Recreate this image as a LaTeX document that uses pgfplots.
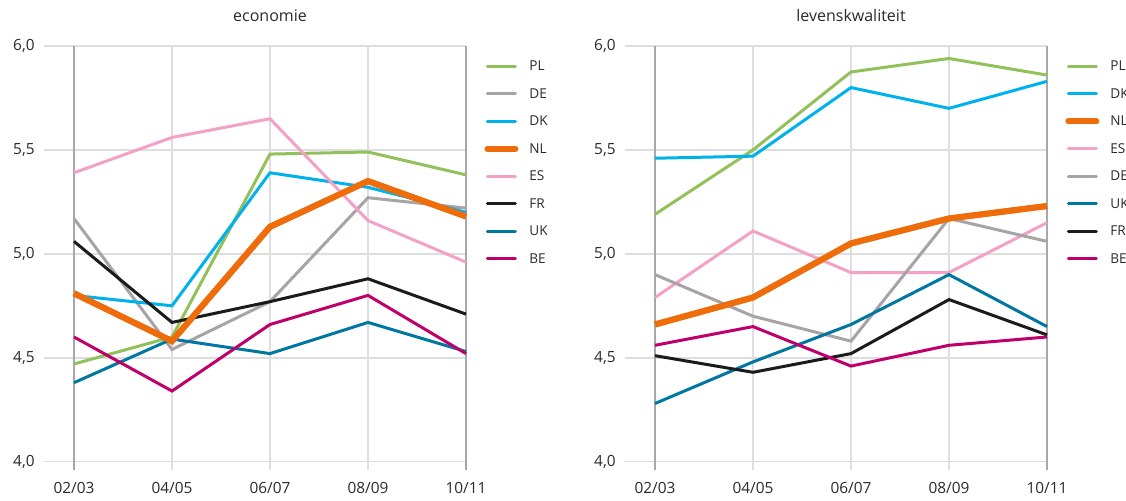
\documentclass[border=0pt]{standalone}
\usepackage{pgfplots}
\pgfplotsset{compat=1.18}
\usepackage{pgfplotstable}
\usepackage{fontspec}
\setmainfont{Open Sans}

\definecolor{cPL}{HTML}{92C05A}
\definecolor{cDE}{HTML}{A8A3A5}
\definecolor{cDK}{HTML}{00B2EB}
\definecolor{cNL}{HTML}{EE6C0A}
\definecolor{cES}{HTML}{F4A1C6}
\definecolor{cFR}{HTML}{1B1A1C}
\definecolor{cUK}{HTML}{0077A1}
\definecolor{cBE}{HTML}{BF006B}
\definecolor{gridgrey}{HTML}{DEDEDE}
\definecolor{axisgrey}{HTML}{A8A8A8}
\definecolor{txt}{HTML}{2A2A2A}

% economie
\pgfplotstableread{
x PL DE DK NL ES FR UK BE
0 4.47 5.17 4.80 4.81 5.39 5.06 4.38 4.60
1 4.60 4.54 4.75 4.58 5.56 4.67 4.59 4.34
2 5.48 4.77 5.39 5.13 5.65 4.77 4.52 4.66
3 5.49 5.27 5.32 5.35 5.16 4.88 4.67 4.80
4 5.38 5.22 5.20 5.18 4.96 4.71 4.53 4.52
}\economie

% levenskwaliteit
\pgfplotstableread{
x PL DK NL ES DE UK FR BE
0 5.19 5.46 4.66 4.79 4.90 4.28 4.51 4.56
1 5.50 5.47 4.79 5.11 4.70 4.48 4.43 4.65
2 5.875 5.80 5.05 4.91 4.58 4.66 4.52 4.46
3 5.94 5.70 5.17 4.91 5.17 4.90 4.78 4.56
4 5.86 5.83 5.23 5.15 5.06 4.65 4.61 4.60
}\leven

\pgfplotsset{
  panel/.style={
    scale only axis, width=211bp, height=212bp,
    xmin=-0.306, xmax=4, ymin=3.96, ymax=6,
    clip=false,
    axis line style={draw=none},
    major tick length=0pt,
    ytick={4,4.5,5,5.5,6},
    xtick={1,2,3}, xticklabels={04/05,06/07,08/09},
    extra x ticks={0,4}, extra x tick labels={02/03,10/11},
    extra x tick style={grid style={color=axisgrey, line width=1bp}},
    xmajorgrids, ymajorgrids,
    grid style={color=gridgrey, line width=0.8bp},
    /pgf/number format/.cd, use comma, fixed, fixed zerofill, precision=1, assume math mode=true,
    /pgfplots/.cd,
    yticklabel style={font=\fontsize{7.7bp}{9bp}\selectfont, text=txt, inner sep=0pt, anchor=east, xshift=-4.5bp},
    xticklabel style={font=\fontsize{7.7bp}{9bp}\selectfont, text=txt, inner sep=0pt, anchor=north, yshift=-6bp},
    legend cell align=left,
    legend image code/.code={\draw[##1, line cap=round] (0.75bp,0bp) -- (14.75bp,0bp);},
    legend style={at={(rel axis cs:1,1)}, anchor=north west, xshift=9bp, yshift=-7.75bp,
      draw=none, fill=none, inner sep=0pt, row sep=9.25bp, column sep=5.5bp,
      font=\fontsize{6.8bp}{8bp}\selectfont, text=txt,
      nodes={inner sep=0pt, text height=4.5bp, text depth=0pt}},
  },
  land/.style={line width=1.5bp, no markers},
  pPL/.style={land, color=cPL},
  pDE/.style={land, color=cDE},
  pDK/.style={land, color=cDK},
  pNL/.style={land, color=cNL, line width=3bp},
  pES/.style={land, color=cES},
  pFR/.style={land, color=cFR},
  pUK/.style={land, color=cUK},
  pBE/.style={land, color=cBE},
}

\begin{document}
\begin{tikzpicture}
\path[use as bounding box] (-22bp,-15.5bp) rectangle (541bp,235bp);

\begin{axis}[panel, at={(0bp,0bp)}, anchor=south west]
  \addplot[pPL] table[x=x, y=PL] {\economie};
  \addplot[pDE] table[x=x, y=DE] {\economie};
  \addplot[pDK] table[x=x, y=DK] {\economie};
  \addplot[pNL] table[x=x, y=NL] {\economie};
  \addplot[pES] table[x=x, y=ES] {\economie};
  \addplot[pFR] table[x=x, y=FR] {\economie};
  \addplot[pUK] table[x=x, y=UK] {\economie};
  \addplot[pBE] table[x=x, y=BE] {\economie};
  \addplot[pNL, forget plot] table[x=x, y=NL] {\economie};
  \legend{PL,DE,DK,NL,ES,FR,UK,BE}
  \node[anchor=base, font=\fontsize{8bp}{9bp}\selectfont, text=txt, yshift=12bp] at (axis cs:2,6) {economie};
\end{axis}

\begin{axis}[panel, at={(290.5bp,0bp)}, anchor=south west]
  \addplot[pPL] table[x=x, y=PL] {\leven};
  \addplot[pDK] table[x=x, y=DK] {\leven};
  \addplot[pNL] table[x=x, y=NL] {\leven};
  \addplot[pES] table[x=x, y=ES] {\leven};
  \addplot[pDE] table[x=x, y=DE] {\leven};
  \addplot[pUK] table[x=x, y=UK] {\leven};
  \addplot[pFR] table[x=x, y=FR] {\leven};
  \addplot[pBE] table[x=x, y=BE] {\leven};
  \addplot[pNL, forget plot] table[x=x, y=NL] {\leven};
  \legend{PL,DK,NL,ES,DE,UK,FR,BE}
  \node[anchor=base, font=\fontsize{8bp}{9bp}\selectfont, text=txt, yshift=12bp] at (axis cs:2,6) {levenskwaliteit};
\end{axis}
\end{tikzpicture}
\end{document}
